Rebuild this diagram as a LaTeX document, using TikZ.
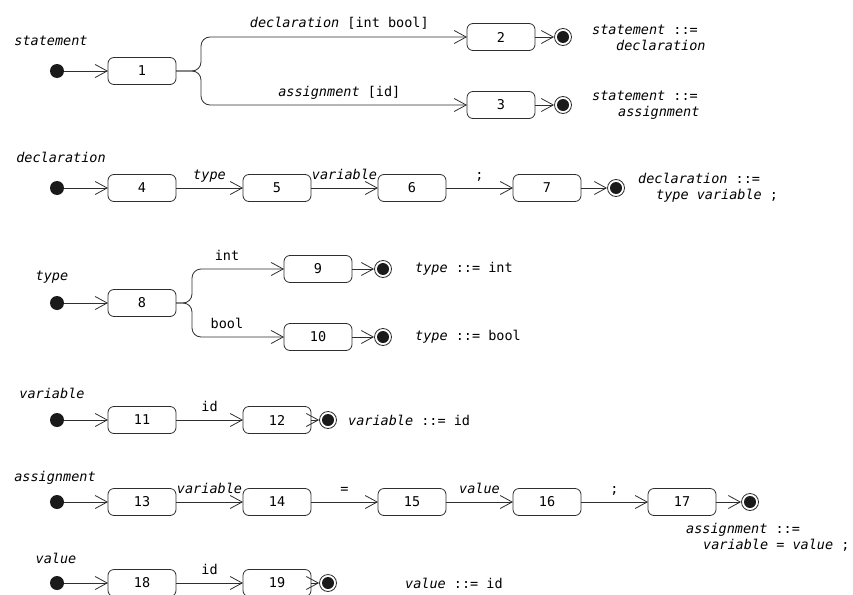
\documentclass[tikz,border=0pt]{standalone}
\usepackage{fontspec}
\setmainfont{DejaVu Sans Mono}[ItalicFont={DejaVu Sans Mono Oblique}]
\usepackage{tikz}
\usetikzlibrary{arrows.meta}
\usetikzlibrary{positioning}
\definecolor{myblack}{HTML}{1A1A1A}
\definecolor{mygray}{HTML}{2E2E2E}
\tikzset{node distance=67pt, every text node part/.style={font={\fontsize{13.5}{16}\selectfont}}}
\tikzstyle{state} = [draw=mygray, line width=0.8pt, fill=white, rounded corners=6pt, minimum width=68pt, minimum height=27pt, inner sep=0pt, outer sep=0pt]
\tikzstyle{initdot} = [circle, fill=myblack, minimum size=14pt, inner sep=0pt, outer sep=0pt]
\tikzstyle{finaldot} = [circle, draw=mygray, line width=0.8pt, fill=white, minimum size=17pt, inner sep=0pt, path picture={\fill[myblack] (path picture bounding box.center) circle (6pt);}]
\tikzstyle{ln} = [draw=mygray, line width=0.8pt, -{Straight Barb[length=12pt, width=13pt]}]
\tikzstyle{lbl} = [anchor=base, yshift=9pt, inner sep=0pt]
\tikzstyle{prod} = [anchor=west, align=left, inner sep=0pt]

\begin{document}
\begin{tikzpicture}[x=1pt, y=-1pt]
    \useasboundingbox (0,0) rectangle (853,594);

    % statement
    \node (lstatement) at (51,41) {\textit{statement}};
    \node[initdot] (i1) at (57,71) {};
    \node[state] (s1) at (142,71) {1};
    \node[state] (s2) at (501,37) {2};
    \node[state] (s3) at (501,105) {3};
    \node[finaldot] (f2) at (563,37) {};
    \node[finaldot] (f3) at (563,105) {};
    \node[prod] (p2) at (592,38) {\textit{statement} ::=\\\hspace*{24pt}\textit{declaration}};
    \node[prod] (p3) at (592,105) {\textit{statement} ::=\\\hspace*{26pt}\textit{assignment}};

    \draw[ln] (i1) -- (s1);
    \draw[ln, rounded corners=9pt] (s1.east) -- ++(25,0) |- node[lbl, pos=0.76] {\textit{declaration} [int bool]} (s2.west);
    \draw[ln, rounded corners=9pt] (s1.east) -- ++(25,0) |- node[lbl, pos=0.76] {\textit{assignment} [id]} (s3.west);
    \draw[ln] (s2) -- (f2);
    \draw[ln] (s3) -- (f3);

    % declaration
    \node (ldeclaration) at (61,157) {\textit{declaration}};
    \node[initdot] (i2) at (57,188) {};
    \node[state, right=44pt of i2] (s4) {4};
    \node[state, right=of s4] (s5) {5};
    \node[state, right=of s5] (s6) {6};
    \node[state, right=of s6] (s7) {7};
    \node[finaldot] (f7) at (616,188) {};
    \node[prod] (p7) at (638,188) {\textit{declaration} ::=\\\hspace*{18pt}\textit{type variable} ;};

    \draw[ln] (i2) -- (s4);
    \draw[ln] (s4) -- node[lbl] {\textit{type}} (s5);
    \draw[ln] (s5) -- node[lbl] {\textit{variable}} (s6);
    \draw[ln] (s6) -- node[lbl] {;} (s7);
    \draw[ln] (s7) -- (f7);

    % type
    \node (ltype) at (52,277) {\textit{type}};
    \node[initdot] (i3) at (57,303) {};
    \node[state, right=44pt of i3] (s8) {8};
    \node[state] (s9) at (318,269) {9};
    \node[state] (s10) at (318,337) {10};
    \node[finaldot] (f9) at (383,269) {};
    \node[finaldot] (f10) at (383,337) {};
    \node[prod] (p9) at (415,269) {\textit{type} ::= int};
    \node[prod] (p10) at (415,337) {\textit{type} ::= bool};

    \draw[ln] (i3) -- (s8);
    \draw[ln, rounded corners=9pt] (s8.east) -- ++(16,0) |- node[lbl, pos=0.69] {int} (s9.west);
    \draw[ln, rounded corners=9pt] (s8.east) -- ++(16,0) |- node[lbl, pos=0.69] {bool} (s10.west);
    \draw[ln] (s9) -- (f9);
    \draw[ln] (s10) -- (f10);

    % variable
    \node (lvariable) at (52,393) {\textit{variable}};
    \node[initdot] (i4) at (57,420) {};
    \node[state, right=44pt of i4] (s11) {11};
    \node[state, right=of s11] (s12) {12};
    \node[finaldot] (f12) at (328,420) {};
    \node[prod] (p12) at (348,420) {\textit{variable} ::= id};

    \draw[ln] (i4) -- (s11);
    \draw[ln] (s11) -- node[lbl] {id} (s12);
    \draw[ln] (s12) -- (f12);

    % assignment
    \node (lassignment) at (55,478) {\textit{assignment}};
    \node[initdot] (i5) at (57,502) {};
    \node[state, right=44pt of i5] (s13) {13};
    \node[state, right=of s13] (s14) {14};
    \node[state, right=of s14] (s15) {15};
    \node[state, right=of s15] (s16) {16};
    \node[state, right=of s16] (s17) {17};
    \node[finaldot] (f17) at (750,502) {};
    \node[prod] (p17) at (686,537) {\textit{assignment} ::=\\\hspace*{17pt}\textit{variable} = \textit{value} ;};

    \draw[ln] (i5) -- (s13);
    \draw[ln] (s13) -- node[lbl] {\textit{variable}} (s14);
    \draw[ln] (s14) -- node[lbl] {=} (s15);
    \draw[ln] (s15) -- node[lbl] {\textit{value}} (s16);
    \draw[ln] (s16) -- node[lbl] {;} (s17);
    \draw[ln] (s17) -- (f17);

    % value
    \node (lvalue) at (56,558) {\textit{value}};
    \node[initdot] (i6) at (57,583) {};
    \node[state, right=44pt of i6] (s18) {18};
    \node[state, right=of s18] (s19) {19};
    \node[finaldot] (f19) at (328,583) {};
    \node[prod] (p19) at (405,583) {\textit{value} ::= id};

    \draw[ln] (i6) -- (s18);
    \draw[ln] (s18) -- node[lbl] {id} (s19);
    \draw[ln] (s19) -- (f19);
\end{tikzpicture}
\end{document}
